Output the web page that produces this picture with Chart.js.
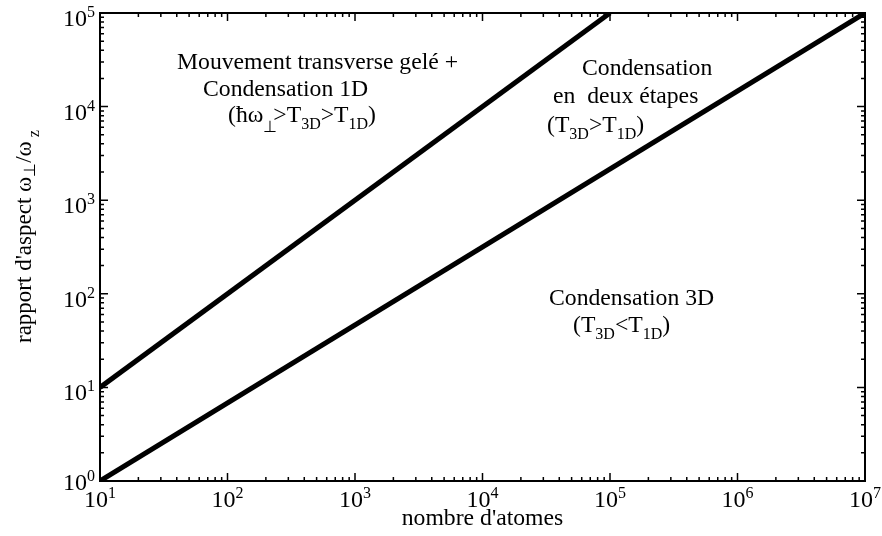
<!DOCTYPE html>
<html lang="fr">
<head>
<meta charset="UTF-8">
<title>Régimes de condensation</title>
<script src="https://cdn.jsdelivr.net/npm/chart.js"></script>
<style>
  body { margin: 0; background: #fff; }
  .wrap { position: relative; width: 882px; height: 536px; }
</style>
</head>
<body>
<div class="wrap"><canvas id="regimes"></canvas></div>
<script>
// frontier lines (log-log), number of atoms vs aspect ratio
const atomsUpper = [1e1, 1e5];
const ratioUpper = [1e1, 1e5];
const atomsLower = [1e1, 1e7];
const ratioLower = [1e0, 1e5];
// decade exponents used for the axis labels
const xTickExps = [1, 2, 3, 4, 5, 6, 7];
const yTickExps = [0, 1, 2, 3, 4, 5];

const serif = "'Liberation Serif', 'Times New Roman', serif";
const TXT = 23.7;  // main text size
const SUB = 16;    // sub/superscript size

// draws a run of text pieces (sub/superscripts) left to right
function drawRich(ctx, x, y, parts) {
  let cx = x;
  parts.forEach(p => {
    ctx.font = (p.size || TXT) + 'px ' + serif;
    ctx.fillText(p.t, cx, y + (p.dy || 0));
    cx += ctx.measureText(p.t).width - (p.back || 0);
  });
  return cx - x;
}
function richWidth(ctx, parts) {
  let w = 0;
  parts.forEach(p => {
    ctx.font = (p.size || TXT) + 'px ' + serif;
    w += ctx.measureText(p.t).width - (p.back || 0);
  });
  return w;
}
function powLabel(e) {
  return [{ t: '10', size: 24 }, { t: String(e), size: SUB, dy: -9 }];
}

const frame = {
  id: 'frame',
  afterDraw(chart) {
    const { ctx, chartArea: a, scales: { x, y } } = chart;
    ctx.save();
    ctx.strokeStyle = '#000';
    ctx.fillStyle = '#000';
    ctx.lineWidth = 2;
    ctx.strokeRect(a.left, a.top, a.right - a.left, a.bottom - a.top);

    // inward ticks on all four sides
    ctx.lineWidth = 1.5;
    const tick = (len, px, horiz) => {
      ctx.beginPath();
      if (horiz) {
        ctx.moveTo(px, a.bottom); ctx.lineTo(px, a.bottom - len);
        ctx.moveTo(px, a.top); ctx.lineTo(px, a.top + len);
      } else {
        ctx.moveTo(a.left, px); ctx.lineTo(a.left + len, px);
        ctx.moveTo(a.right, px); ctx.lineTo(a.right - len, px);
      }
      ctx.stroke();
    };
    const decades = (scale, horiz) => {
      const lo = Math.round(Math.log10(scale.min));
      const hi = Math.round(Math.log10(scale.max));
      for (let d = lo; d <= hi; d++) {
        const base = Math.pow(10, d);
        tick(8, scale.getPixelForValue(base), horiz);
        if (d === hi) continue;
        for (let k = 2; k <= 9; k++) tick(4, scale.getPixelForValue(k * base), horiz);
      }
    };
    decades(x, true);
    decades(y, false);

    // tick labels
    ctx.textBaseline = 'alphabetic';
    xTickExps.forEach(e => {
      const parts = powLabel(e);
      const px = x.getPixelForValue(Math.pow(10, e));
      drawRich(ctx, px - richWidth(ctx, parts) / 2, a.bottom + 26, parts);
    });
    yTickExps.forEach(e => {
      const parts = powLabel(e);
      const py = y.getPixelForValue(Math.pow(10, e));
      const base = Math.min(py + 13, a.bottom + 9);
      drawRich(ctx, a.left - 5 - richWidth(ctx, parts), base, parts);
    });

    // axis titles
    const xt = [{ t: "nombre d'atomes" }];
    drawRich(ctx, (a.left + a.right) / 2 - richWidth(ctx, xt) / 2, 525, xt);

    ctx.save();
    ctx.translate(31, 343);
    ctx.rotate(-Math.PI / 2);
    drawRich(ctx, 0, 0, [
      { t: "rapport d'aspect ω", size: 23 },
      { t: '⊥', size: SUB, dy: 4 },
      { t: '/ω', size: 23 },
      { t: ' z', size: SUB, dy: 8 }
    ]);
    ctx.restore();

    // region labels
    drawRich(ctx, 177, 69, [{ t: 'Mouvement transverse gelé +' }]);
    drawRich(ctx, 203, 96, [{ t: 'Condensation 1D' }]);
    drawRich(ctx, 228, 122, [
      { t: '(ħω' },
      { t: '⊥', size: SUB, dy: 10, back: 4 },
      { t: '>T' },
      { t: '3D', size: SUB, dy: 7 },
      { t: '>T' },
      { t: '1D', size: SUB, dy: 7 },
      { t: ')' }
    ]);

    drawRich(ctx, 582, 75, [{ t: 'Condensation' }]);
    drawRich(ctx, 553, 103, [{ t: 'en  deux étapes' }]);
    drawRich(ctx, 547, 132, [
      { t: '(T' },
      { t: '3D', size: SUB, dy: 7 },
      { t: '>T' },
      { t: '1D', size: SUB, dy: 7 },
      { t: ')' }
    ]);

    drawRich(ctx, 549, 305, [{ t: 'Condensation 3D' }]);
    drawRich(ctx, 573, 332, [
      { t: '(T' },
      { t: '3D', size: SUB, dy: 7 },
      { t: '<T' },
      { t: '1D', size: SUB, dy: 7 },
      { t: ')' }
    ]);
    ctx.restore();
  }
};

const toPoints = (xs, ys) => xs.map((v, i) => ({ x: v, y: ys[i] }));

new Chart(document.getElementById('regimes'), {
  type: 'scatter',
  data: {
    datasets: [
      { data: toPoints(atomsUpper, ratioUpper), showLine: true, borderColor: '#000', borderWidth: 5, pointRadius: 0 },
      { data: toPoints(atomsLower, ratioLower), showLine: true, borderColor: '#000', borderWidth: 5, pointRadius: 0 }
    ]
  },
  options: {
    responsive: true,
    maintainAspectRatio: false,
    animation: false,
    layout: { padding: { left: 100, top: 13, right: 17, bottom: 55 } },
    scales: {
      x: { type: 'logarithmic', min: 1e1, max: 1e7, display: false },
      y: { type: 'logarithmic', min: 1e0, max: 1e5, display: false }
    },
    plugins: { legend: { display: false }, tooltip: { enabled: false } }
  },
  plugins: [frame]
});
</script>
</body>
</html>
